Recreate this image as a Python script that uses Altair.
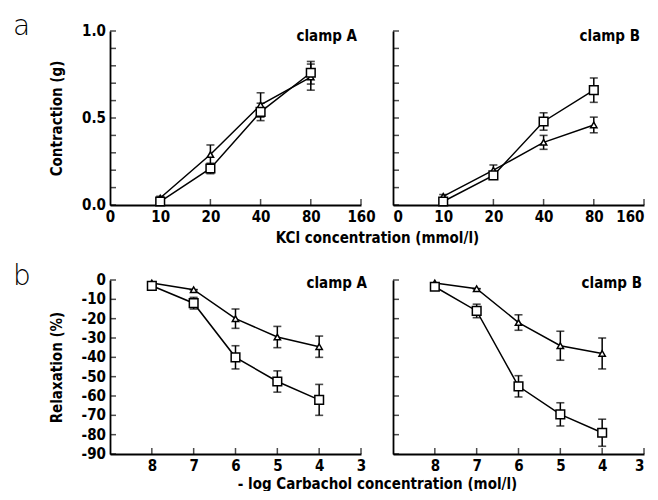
import altair as alt
import pandas as pd

# ---- data ----
kcl_ticks = ["0", "10", "20", "40", "80", "160"]
kcl_conc = ["10", "20", "40", "80"]

a_kcl_tri = [0.04, 0.29, 0.575, 0.735]
a_kcl_tri_err = [0.01, 0.055, 0.07, 0.075]
a_kcl_sq = [0.02, 0.21, 0.535, 0.76]
a_kcl_sq_err = [0.01, 0.03, 0.05, 0.065]

b_kcl_tri = [0.05, 0.20, 0.36, 0.46]
b_kcl_tri_err = [0.01, 0.03, 0.04, 0.045]
b_kcl_sq = [0.02, 0.17, 0.48, 0.66]
b_kcl_sq_err = [0.01, 0.02, 0.05, 0.07]

carb_ticks = [8, 7, 6, 5, 4, 3]
carb_logc = [8, 7, 6, 5, 4]

a_carb_tri = [-1.5, -5, -20, -29.5, -34.5]
a_carb_tri_err = [0, 0, 5, 5.5, 5.5]
a_carb_sq = [-3, -12, -40, -52.5, -62]
a_carb_sq_err = [1, 3, 6, 5.5, 8]

b_carb_tri = [-1.5, -4.5, -22, -34, -38]
b_carb_tri_err = [0, 0, 4, 7.5, 8]
b_carb_sq = [-3.5, -16, -55, -69.5, -79]
b_carb_sq_err = [1, 3.5, 5.5, 6, 7]

contr_ticks = [0, 0.1, 0.2, 0.3, 0.4, 0.5, 0.6, 0.7, 0.8, 0.9, 1.0]
contr_label_vals = [0, 0.5, 1.0]
contr_labels = ["0.0", "0.5", "1.0"]
relax_ticks = [0, -10, -20, -30, -40, -50, -60, -70, -80, -90]
relax_labels = ["0", "-10", "-20", "-30", "-40", "-50", "-60", "-70", "-80", "-90"]

FONT = "'DejaVu Sans Condensed', 'DejaVu Sans'"
W = 251
SP = 32
H_TOP = 174
H_BOT = 174


def make_df(xs, tri, tri_err, sq, sq_err):
    rows = []
    for x, v, e in zip(xs, tri, tri_err):
        rows.append({"x": x, "y": v, "lo": v - e, "hi": v + e, "s": "tri"})
    for x, v, e in zip(xs, sq, sq_err):
        rows.append({"x": x, "y": v, "lo": v - e, "hi": v + e, "s": "sq"})
    return pd.DataFrame(rows)


kcl_idx = [kcl_ticks.index(c) for c in kcl_conc]


def text_layer(txt, x, y, size=15, align="right", weight="bold", font=FONT):
    return alt.Chart(pd.DataFrame({"t": [txt]})).mark_text(
        align=align, baseline="alphabetic", font=font, fontSize=size,
        fontWeight=weight, color="black"
    ).encode(text="t:N", x=alt.value(x), y=alt.value(y))


def panel(df, xscale, xaxis, xticks, yscale, yaxis, yticks, height, label, lx, ly,
          ylab_vals=None, ylabs=None, letter=None, lby=0):
    base = alt.Chart(df)
    x = alt.X("x:Q", scale=xscale, axis=xaxis)
    y = alt.Y("y:Q", scale=yscale, axis=yaxis)
    # inward axis ticks drawn through the scales
    xt = alt.Chart(pd.DataFrame({"x": xticks})).mark_tick(
        color="black", orient="vertical", size=6, thickness=1.5
    ).encode(x=x, y=alt.value(height - 3))
    yt = alt.Chart(pd.DataFrame({"y": yticks})).mark_tick(
        color="black", orient="horizontal", size=6, thickness=1.5
    ).encode(y=y, x=alt.value(3))
    lines = base.mark_line(color="black", strokeWidth=1.5).encode(x=x, y=y, detail="s:N")
    rules = base.mark_rule(color="black", strokeWidth=1.5).encode(
        x=x, y=alt.Y("lo:Q", scale=yscale), y2="hi:Q")
    caps_lo = base.mark_tick(color="black", orient="horizontal", size=8, thickness=1.6).encode(
        x=x, y=alt.Y("lo:Q", scale=yscale))
    caps_hi = base.mark_tick(color="black", orient="horizontal", size=8, thickness=1.6).encode(
        x=x, y=alt.Y("hi:Q", scale=yscale))
    pts = base.mark_point(filled=True, fill="white", stroke="black", strokeWidth=1.5, opacity=1).encode(
        x=x, y=y,
        shape=alt.Shape("s:N", scale=alt.Scale(domain=["tri", "sq"], range=["triangle-up", "square"]), legend=None),
        size=alt.Size("s:N", scale=alt.Scale(domain=["tri", "sq"], range=[40, 75]), legend=None),
    )
    layers = [xt, yt, lines, rules, caps_lo, caps_hi, pts, text_layer(label, lx, ly)]
    if ylabs is not None:
        ylab = alt.Chart(pd.DataFrame({"y": ylab_vals, "lab": ylabs})).mark_text(
            align="right", baseline="middle", dx=-4, font=FONT, fontSize=15,
            fontWeight="bold", color="black"
        ).encode(y=y, x=alt.value(0), text="lab:N")
        layers.append(ylab)
    if letter is not None:
        layers.append(text_layer(letter, -97, lby, size=28, align="left", weight=200,
                                 font="'DejaVu Sans'"))
    return alt.layer(*layers).properties(width=W, height=height)


kcl_label_expr = "[" + ",".join("'%s'" % t for t in kcl_ticks) + "][datum.value]"
kcl_scale = alt.Scale(domain=[0, len(kcl_ticks) - 1], nice=False, zero=False)
contr_scale = alt.Scale(domain=[0, 1], nice=False)
carb_scale = alt.Scale(domain=[9, 3], nice=False, zero=False)
relax_scale = alt.Scale(domain=[-90, 0], nice=False)

kcl_pos = list(range(len(kcl_ticks)))

XA = dict(labelOverlap=False, labelPadding=4)

tl = panel(
    make_df(kcl_idx, a_kcl_tri, a_kcl_tri_err, a_kcl_sq, a_kcl_sq_err),
    kcl_scale,
    alt.Axis(values=kcl_pos, labelExpr=kcl_label_expr, labelFlush=False,
             title="KCl concentration (mmol/l)", titleX=W + SP / 2, titlePadding=6, **XA),
    kcl_pos[1:],
    contr_scale,
    alt.Axis(labels=False, title="Contraction (g)", titlePadding=46),
    contr_ticks,
    H_TOP, "clamp A", W - 4, 10,
    ylab_vals=contr_label_vals, ylabs=contr_labels, letter="a", lby=4,
)
tr = panel(
    make_df(kcl_idx, b_kcl_tri, b_kcl_tri_err, b_kcl_sq, b_kcl_sq_err),
    kcl_scale,
    alt.Axis(values=kcl_pos, labelExpr=kcl_label_expr, title=None, labelFlush=True, **XA),
    kcl_pos[1:],
    contr_scale,
    alt.Axis(labels=False, title=None),
    contr_ticks,
    H_TOP, "clamp B", W - 4, 10,
)
bl = panel(
    make_df(carb_logc, a_carb_tri, a_carb_tri_err, a_carb_sq, a_carb_sq_err),
    carb_scale,
    alt.Axis(values=carb_ticks, format="d", labelFlush=False,
             title="- log Carbachol concentration (mol/l)", titleX=W + SP / 2, titlePadding=3, **XA),
    carb_ticks,
    relax_scale,
    alt.Axis(labels=False, title="Relaxation (%)", titlePadding=46),
    relax_ticks,
    H_BOT, "clamp A", W + 6, 8,
    ylab_vals=relax_ticks, ylabs=relax_labels, letter="b", lby=5,
)
br = panel(
    make_df(carb_logc, b_carb_tri, b_carb_tri_err, b_carb_sq, b_carb_sq_err),
    carb_scale,
    alt.Axis(values=carb_ticks, format="d", title=None, labelFlush=True, **XA),
    carb_ticks,
    relax_scale,
    alt.Axis(labels=False, title=None),
    relax_ticks,
    H_BOT, "clamp B", W - 2, 8,
)

chart = alt.concat(
    tl, tr, bl, br, columns=2, spacing={"row": 75, "column": SP}, bounds="flush"
).properties(
    padding={"left": 5, "top": 5, "right": 0, "bottom": 0}
).configure(background="white").configure_view(stroke=None).configure_axis(
    grid=False, ticks=False,
    domainColor="black", domainWidth=1.8,
    labelFont=FONT, labelFontSize=15, labelFontWeight="bold", labelColor="black",
    labelBound=False,
    titleFont=FONT, titleFontSize=15, titleFontWeight="bold", titleColor="black",
)

chart.save("out.html", embed_options={"renderer": "svg", "actions": False})
